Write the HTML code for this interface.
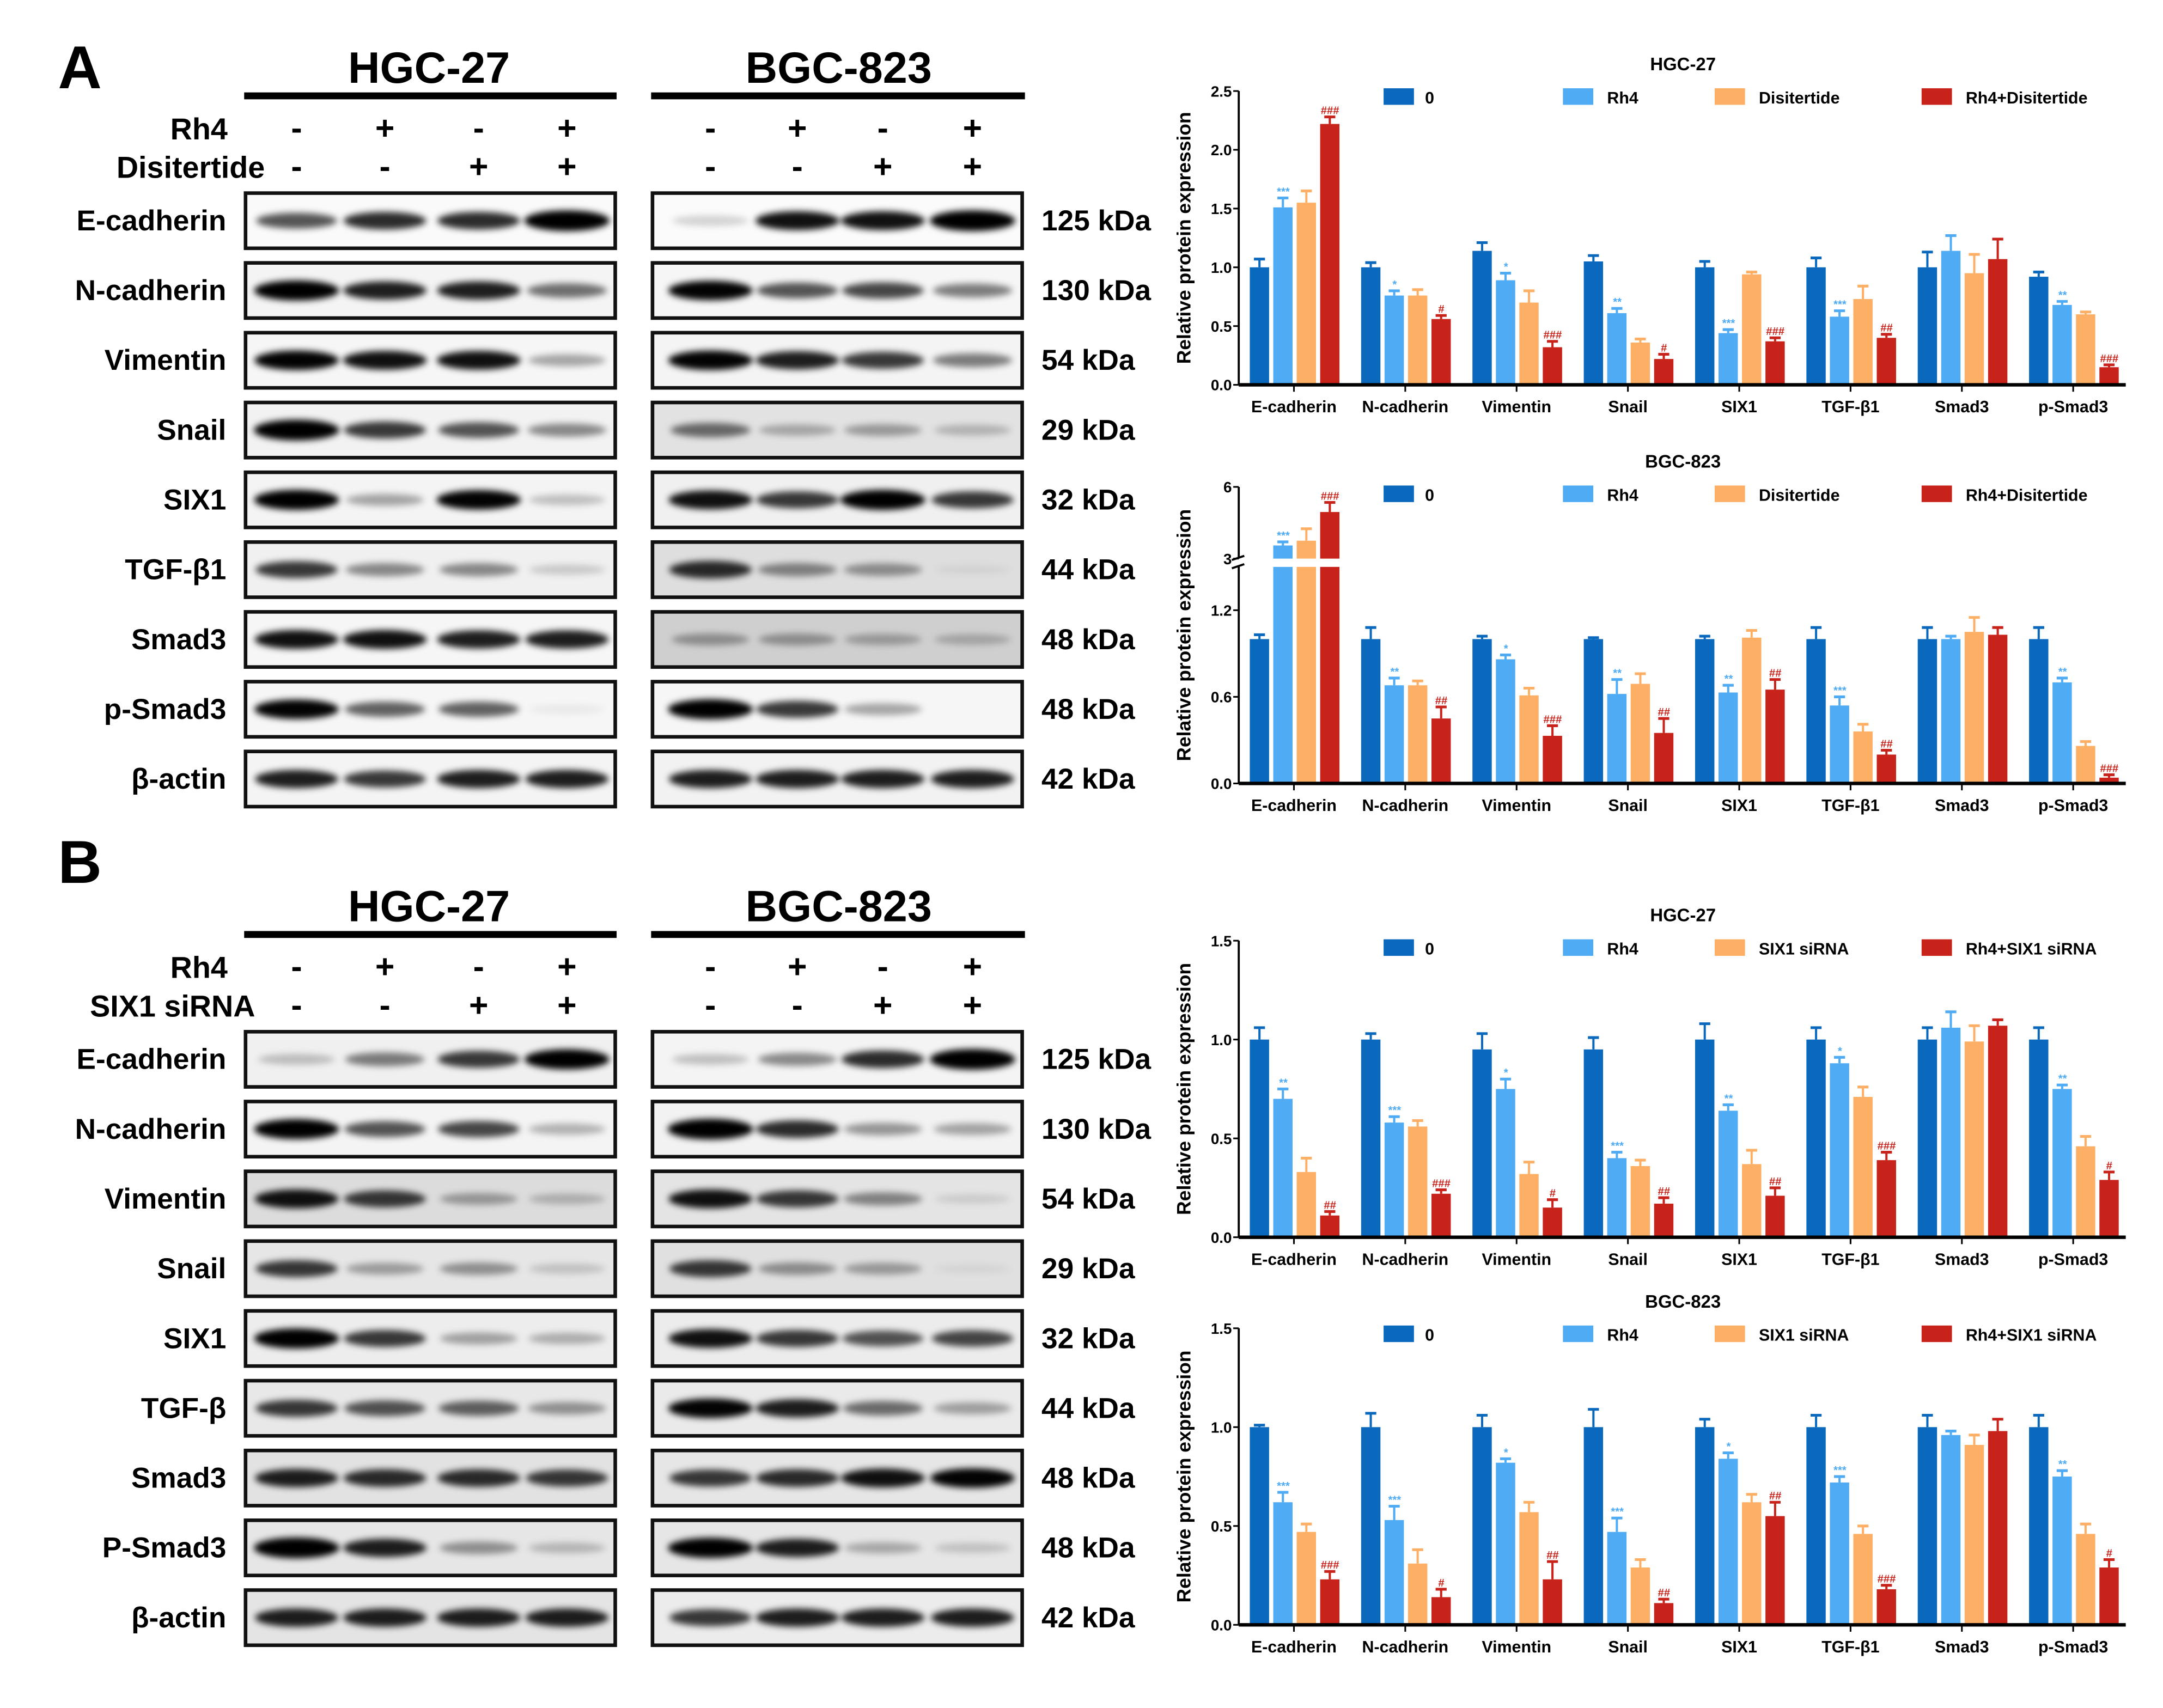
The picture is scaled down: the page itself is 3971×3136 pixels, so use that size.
<!DOCTYPE html>
<html><head><meta charset="utf-8">
<style>
html,body{margin:0;padding:0;background:#fff;}
svg{display:block;}
text{font-family:"Liberation Sans Narrow","Liberation Sans",sans-serif;font-weight:bold;}
</style></head>
<body>
<svg id="fig" xmlns="http://www.w3.org/2000/svg" width="3971" height="3136" viewBox="0 0 1568 1238.3" preserveAspectRatio="none">
<defs><filter id="blur" x="-30%" y="-80%" width="160%" height="260%"><feGaussianBlur stdDeviation="2.3"/></filter></defs>
<rect width="1568" height="1239" fill="#fff"/>
</svg>
<script>
// ---------- chart data ----------
const categories = ["E-cadherin","N-cadherin","Vimentin","Snail","SIX1","TGF-β1","Smad3","p-Smad3"];
const legendA = ["0","Rh4","Disitertide","Rh4+Disitertide"];
const legendB = ["0","Rh4","SIX1 siRNA","Rh4+SIX1 siRNA"];
// A HGC-27
const aHgcCtrl = [1.0,1.0,1.14,1.05,1.0,1.0,1.0,0.92];
const aHgcRh4  = [1.51,0.76,0.89,0.61,0.44,0.58,1.14,0.68];
const aHgcDis  = [1.55,0.76,0.70,0.36,0.94,0.73,0.95,0.60];
const aHgcComb = [2.22,0.56,0.32,0.22,0.37,0.40,1.07,0.15];
const aHgcErr = [[0.07,0.04,0.07,0.05,0.05,0.08,0.13,0.04],[0.08,0.04,0.06,0.04,0.03,0.05,0.13,0.03],[0.10,0.05,0.10,0.03,0.02,0.11,0.16,0.02],[0.06,0.03,0.05,0.04,0.03,0.03,0.17,0.02]];
const aHgcSigRh4 = ["***","*","*","**","***","***","","**"];
const aHgcSigComb = ["###","#","###","#","###","##","","###"];
const aHgcTicks = [0,0.5,1.0,1.5,2.0,2.5];
// A BGC-823 (broken axis)
const aBgcCtrl = [1.0,1.0,1.0,1.0,1.0,1.0,1.0,1.0];
const aBgcRh4  = [3.55,0.68,0.86,0.62,0.63,0.54,1.0,0.70];
const aBgcDis  = [3.75,0.68,0.61,0.69,1.01,0.36,1.05,0.26];
const aBgcComb = [4.95,0.45,0.33,0.35,0.65,0.20,1.03,0.04];
const aBgcErr = [[0.03,0.08,0.02,0.01,0.02,0.08,0.08,0.08],[0.15,0.05,0.03,0.10,0.05,0.06,0.02,0.03],[0.5,0.03,0.05,0.07,0.05,0.05,0.10,0.03],[0.4,0.08,0.07,0.10,0.07,0.03,0.05,0.02]];
const aBgcSigRh4 = ["***","**","*","**","**","***","","**"];
const aBgcSigComb = ["###","##","###","##","##","##","","###"];
const aBgcTicks = [0,0.6,1.2,3,6];
// B HGC-27
const bHgcCtrl = [1.0,1.0,0.95,0.95,1.0,1.0,1.0,1.0];
const bHgcRh4  = [0.70,0.58,0.75,0.40,0.64,0.88,1.06,0.75];
const bHgcSi   = [0.33,0.56,0.32,0.36,0.37,0.71,0.99,0.46];
const bHgcComb = [0.11,0.22,0.15,0.17,0.21,0.39,1.07,0.29];
const bHgcErr = [[0.06,0.03,0.08,0.06,0.08,0.06,0.06,0.06],[0.05,0.03,0.05,0.03,0.03,0.03,0.08,0.02],[0.07,0.03,0.06,0.03,0.07,0.05,0.08,0.05],[0.02,0.02,0.04,0.03,0.04,0.04,0.03,0.04]];
const bHgcSigRh4 = ["**","***","*","***","**","*","","**"];
const bHgcSigComb = ["##","###","#","##","##","###","","#"];
// B BGC-823
const bBgcCtrl = [1.0,1.0,1.0,1.0,1.0,1.0,1.0,1.0];
const bBgcRh4  = [0.62,0.53,0.82,0.47,0.84,0.72,0.96,0.75];
const bBgcSi   = [0.47,0.31,0.57,0.29,0.62,0.46,0.91,0.46];
const bBgcComb = [0.23,0.14,0.23,0.11,0.55,0.18,0.98,0.29];
const bBgcErr = [[0.01,0.07,0.06,0.09,0.04,0.06,0.06,0.06],[0.05,0.07,0.02,0.07,0.03,0.03,0.02,0.03],[0.04,0.07,0.05,0.04,0.04,0.04,0.05,0.05],[0.04,0.04,0.09,0.02,0.07,0.02,0.06,0.04]];
const bBgcSigRh4 = ["***","***","*","***","*","***","","**"];
const bBgcSigComb = ["###","#","##","##","##","###","","#"];
const bTicks = [0,0.5,1.0,1.5];

// ---------- blot data ----------
const proteinsA = ["E-cadherin","N-cadherin","Vimentin","Snail","SIX1","TGF-β1","Smad3","p-Smad3","β-actin"];
const proteinsB = ["E-cadherin","N-cadherin","Vimentin","Snail","SIX1","TGF-β","Smad3","P-Smad3","β-actin"];
const kdaLabels = ["125 kDa","130 kDa","54 kDa","29 kDa","32 kDa","44 kDa","48 kDa","48 kDa","42 kDa"];
const blotAHgc = [[0.6,0.75,0.75,1],[0.95,0.8,0.8,0.5],[0.9,0.85,0.85,0.3],[1,0.7,0.6,0.4],[0.95,0.3,0.9,0.2],[0.7,0.4,0.4,0.15],[0.85,0.85,0.8,0.8],[0.9,0.55,0.55,0.05],[0.8,0.7,0.8,0.8]];
const blotABgc = [[0.15,0.85,0.85,1],[0.9,0.6,0.65,0.45],[0.9,0.8,0.7,0.45],[0.5,0.25,0.3,0.2],[0.85,0.7,0.95,0.7],[0.75,0.4,0.35,0.05],[0.3,0.3,0.25,0.2],[0.95,0.7,0.3,0],[0.8,0.8,0.8,0.8]];
const blotBHgc = [[0.2,0.45,0.7,0.95],[0.95,0.6,0.65,0.25],[0.85,0.7,0.3,0.2],[0.7,0.3,0.35,0.15],[0.95,0.7,0.3,0.25],[0.7,0.6,0.55,0.35],[0.8,0.75,0.75,0.7],[1,0.8,0.35,0.2],[0.8,0.8,0.8,0.8]];
const blotBBgc = [[0.2,0.4,0.75,1],[1,0.75,0.35,0.3],[0.85,0.7,0.4,0.1],[0.7,0.35,0.3,0.05],[0.85,0.7,0.6,0.65],[0.9,0.8,0.5,0.3],[0.7,0.75,0.85,0.9],[0.95,0.8,0.25,0.15],[0.7,0.8,0.8,0.8]];
const bgAHgc = ["#fafafa","#f4f4f4","#f6f6f6","#f2f2f2","#f4f4f4","#f0f0f0","#f6f6f6","#f6f6f6","#f4f4f4"];
const bgABgc = ["#fbfbfb","#f6f6f6","#f4f4f4","#e2e2e2","#f0f0f0","#dedede","#cfcfcf","#f6f6f6","#f2f2f2"];
const bgBHgc = ["#f0f0f0","#f4f4f4","#dcdcdc","#e6e6e6","#ededed","#e8e8e8","#e2e2e2","#e6e6e6","#e4e4e4"];
const bgBBgc = ["#f4f4f4","#f2f2f2","#e4e4e4","#e0e0e0","#ececec","#eaeaea","#e6e6e6","#e6e6e6","#ececec"];
const treatRh4 = ["-","+","-","+"];
const treatSecond = ["-","-","+","+"];

const NS = "http://www.w3.org/2000/svg";
const svg = document.getElementById("fig");
function el(tag, attrs, parent){ const e=document.createElementNS(NS,tag); for(const k in attrs) e.setAttribute(k,attrs[k]); (parent||svg).appendChild(e); return e; }
function txt(s, attrs, parent){ const t=el("text",attrs,parent); t.textContent=s; return t; }

const COLORS = ["#0b69bd","#4eabf4","#fdb065","#c8231b"];
const HGC_LANES = [215,279,347,411];
const BGC_LANES = [515,578,640,705];

function blotSection(letter, letterY, top, proteins, second, dataH, dataB, bgH, bgB){
  const g = el("g",{});
  
  
  const L = txt(letter,{x:42,y:letterY,"font-size":44,fill:"#000"},g);
  
  
  [["HGC-27",311,177,270],["BGC-823",608,472,271]].forEach(([name,cx,bx,bw])=>{
    const t = txt(name,{x:cx,y:top+31,"font-size":32,"text-anchor":"middle"},g);
    
    
    const r = el("rect",{x:bx,y:top+38,width:bw,height:5,fill:"#000"},g);
    
    
  });
  const r1 = top+72, r2 = top+100;
  const l1 = txt("Rh4",{x:165,y:r1,"font-size":22,"text-anchor":"end"},g);
  
  
  const l2 = txt(second,{x:second==="Disitertide"?192:185,y:r2,"font-size":22,"text-anchor":"end"},g);
  
  
  HGC_LANES.concat(BGC_LANES).forEach((x,i)=>{
    const a = txt(treatRh4[i%4],{x:x,y:r1,"font-size":24,"text-anchor":"middle"},g);
    
    
    const b = txt(treatSecond[i%4],{x:x,y:r2,"font-size":24,"text-anchor":"middle"},g);
    
    
  });
  const py0 = top+111;
  proteins.forEach((p,i)=>{
    const y = py0 + i*50.6;
    const lab = txt(p,{x:164,y:y+27,"font-size":21,"text-anchor":"end"},g);
    
    
    const kd = txt(kdaLabels[i],{x:755,y:y+27,"font-size":21},g);
    
    
    [[178,dataH[i],HGC_LANES,bgH[i]],[473,dataB[i],BGC_LANES,bgB[i]]].forEach(([px,vals,lanes,bg])=>{
      const pg = el("g",{},g);
      
      
      el("rect",{x:px,y:y,width:268,height:40,fill:bg},pg);
      const bands = el("g",{filter:"url(#blur)"},pg);
      vals.forEach((v,k)=>{
        const b = el("ellipse",{cx:lanes[k],cy:y+20,rx:27+4*v,ry:3+4.5*v,fill:"#000","fill-opacity":Math.min(1,v*1.1)},bands);
        
        
      });
      el("rect",{x:px,y:y,width:268,height:40,fill:"none",stroke:"#111","stroke-width":2.6},pg);
    });
  });
}
blotSection("A",64,29,proteinsA,"Disitertide",blotAHgc,blotABgc,bgAHgc,bgABgc);
blotSection("B",640,637,proteinsB,"SIX1 siRNA",blotBHgc,blotBBgc,bgBHgc,bgBBgc);

// ---------- charts ----------
const AX_X = 898, AX_END = 1541, G0 = 938, GSTEP = 80.7;
function chart(name, title, titleY, legend, series, errs, sigRh4, sigComb, yfun, ticks, y0, yTopPx, broken){
  const g = el("g",{});
  
  
  const t = txt(title,{x:1220,y:titleY+5,"font-size":13,"text-anchor":"middle"},g);
  
  
  const lx = [1003,1133,1243,1393];
  legend.forEach((s,i)=>{
    const lg = el("g",{},g);
    
    
    el("rect",{x:lx[i],y:titleY+18,width:22,height:12,fill:COLORS[i]},lg);
    txt(s,{x:lx[i]+(i==0?30:32),y:titleY+29,"font-size":12},lg);
  });
  const ymid = (y0+yTopPx)/2;
  const yl = txt("Relative protein expression",{x:0,y:0,"font-size":14,"text-anchor":"middle",transform:`translate(863,${ymid}) rotate(-90)`},g);
  
  
  const bw = 14, off = [-32,-15,2,19];
  series.forEach((vals,s)=>{
    vals.forEach((v,c)=>{
      const x = G0 + c*GSTEP + off[s];
      const e = errs[s][c];
      const b = el("g",{},g);
      
      
      const ytop = yfun(v), ybase = yfun(0);
      el("rect",{x:x,y:ytop,width:bw,height:ybase-ytop,fill:COLORS[s]},b);
      const ye = yfun(v+e);
      el("line",{x1:x+bw/2,x2:x+bw/2,y1:ytop,y2:ye,stroke:COLORS[s],"stroke-width":1.6},b);
      el("line",{x1:x+bw/2-4,x2:x+bw/2+4,y1:ye,y2:ye,stroke:COLORS[s],"stroke-width":2},b);
      const sig = s==1 ? sigRh4[c] : (s==3 ? sigComb[c] : "");
      if(sig){
        const st = txt(sig,{x:x+bw/2,y:ye-2,"font-size":8,"font-style":"italic","text-anchor":"middle",fill:COLORS[s]},b);
        
        
      }
    });
  });
  if(broken){
    el("rect",{x:AX_X-6,y:broken[0],width:AX_END-AX_X+10,height:broken[1]-broken[0],fill:"#fff"},g);
    el("line",{x1:AX_X-5,x2:AX_X+4,y1:broken[0]+1,y2:broken[0]-2,stroke:"#000","stroke-width":1.5},g);
    el("line",{x1:AX_X-5,x2:AX_X+4,y1:broken[1]+1,y2:broken[1]-2,stroke:"#000","stroke-width":1.5},g);
  }
  const ax = el("g",{},g);
  
  
  if(broken){
    el("line",{x1:AX_X,x2:AX_X,y1:y0,y2:broken[1],stroke:"#000","stroke-width":1.5},ax);
    el("line",{x1:AX_X,x2:AX_X,y1:broken[0],y2:yTopPx,stroke:"#000","stroke-width":1.5},ax);
  } else {
    el("line",{x1:AX_X,x2:AX_X,y1:y0,y2:yTopPx,stroke:"#000","stroke-width":1.5},ax);
  }
  ticks.forEach(tv=>{
    const ty = yfun(tv);
    el("line",{x1:AX_X-4,x2:AX_X,y1:ty,y2:ty,stroke:"#000","stroke-width":1.2},ax);
    const lab = txt(broken? String(tv===0?"0.0":tv): tv.toFixed(1),{x:AX_X-5,y:ty+4,"font-size":11,"text-anchor":"end"},ax);
    
    
  });
  const xa = el("g",{},g);
  
  
  el("line",{x1:AX_X,x2:AX_END,y1:y0,y2:y0,stroke:"#000","stroke-width":2.5},xa);
  categories.forEach((c,i)=>{
    const cx = G0 + i*GSTEP;
    el("line",{x1:cx,x2:cx,y1:y0,y2:y0+5,stroke:"#000","stroke-width":1.2},xa);
    const lab = txt(c,{x:cx,y:y0+20,"font-size":12,"text-anchor":"middle"},xa);
    
    
  });
}
function lin(v0px, vTopPx, vmax){ return v => v0px - v/vmax*(v0px-vTopPx); }

chart("chart-a-hgc27","HGC-27",46,legendA,[aHgcCtrl,aHgcRh4,aHgcDis,aHgcComb],aHgcErr,aHgcSigRh4,aHgcSigComb,lin(279,66,2.5),aHgcTicks,279,66,null);
const aBgcY = v => v<=1.5 ? 568 - v/1.5*(568-411) : (v<3 ? 411 - (v-1.5)/1.5*6 : 405 - (v-3)/3*(405-353));
chart("chart-a-bgc823","BGC-823",334,legendA,[aBgcCtrl,aBgcRh4,aBgcDis,aBgcComb],aBgcErr,aBgcSigRh4,aBgcSigComb,aBgcY,aBgcTicks,568,353,[405,411]);
chart("chart-b-hgc27","HGC-27",663,legendB,[bHgcCtrl,bHgcRh4,bHgcSi,bHgcComb],bHgcErr,bHgcSigRh4,bHgcSigComb,lin(897,682,1.5),bTicks,897,682,null);
chart("chart-b-bgc823","BGC-823",943,legendB,[bBgcCtrl,bBgcRh4,bBgcSi,bBgcComb],bBgcErr,bBgcSigRh4,bBgcSigComb,lin(1178,963,1.5),bTicks,1178,963,null);
</script>
</body></html>
